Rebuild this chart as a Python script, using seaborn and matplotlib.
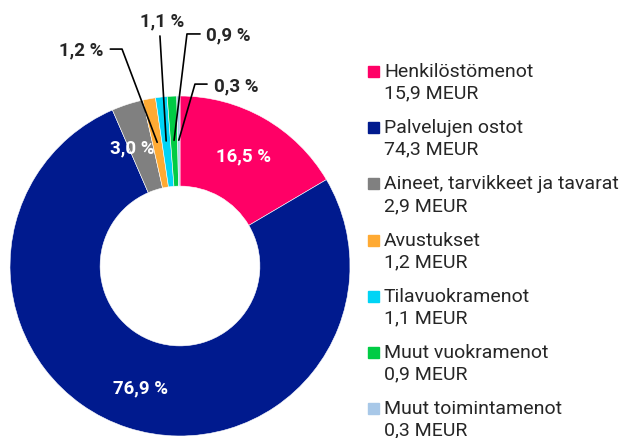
import numpy as np
import matplotlib
matplotlib.use("Agg")
import matplotlib.pyplot as plt
import seaborn as sns
from matplotlib.patches import Rectangle

# data
categories = [
    "Henkilöstömenot",
    "Palvelujen ostot",
    "Aineet, tarvikkeet ja tavarat",
    "Avustukset",
    "Tilavuokramenot",
    "Muut vuokramenot",
    "Muut toimintamenot",
]
meur = [15.9, 74.3, 2.9, 1.2, 1.1, 0.9, 0.3]
shares = [16.5, 76.9, 3.0, 1.2, 1.1, 0.9, 0.3]
colors = ["#FF0066", "#001A8E", "#808080", "#FFAA33", "#00D4F5", "#00CC44", "#A8C8E8"]


def fi(v):
    return f"{v:.1f}".replace(".", ",")


sns.set_theme(style="white")
plt.rcParams["font.family"] = ["Roboto", "DejaVu Sans"]

W, H = 632, 439
fig = plt.figure(figsize=(W / 100, H / 100), dpi=100)
cx, cy, r = 180, 267, 170
ax = fig.add_axes([(cx - r) / W, (H - cy - r) / H, 2 * r / W, 2 * r / H])

wedges, _ = ax.pie(
    shares,
    colors=colors,
    startangle=90,
    counterclock=False,
    radius=1,
    wedgeprops=dict(width=0.53, edgecolor="white", linewidth=0.4),
)
ax.set_xlim(-1, 1)
ax.set_ylim(-1, 1)
ax.set_aspect("equal")
ax.axis("off")

# labels inside the big wedges (small angle nudge for the narrow grey one)
nudge = {2: 4.0}
for i, (w, s) in enumerate(zip(wedges, shares)):
    mid = np.deg2rad((w.theta1 + w.theta2) / 2 + nudge.get(i, 0))
    if s >= 3:
        ax.text(0.75 * np.cos(mid), 0.75 * np.sin(mid), f"{fi(s)} %",
                color="white", fontsize=13.5, fontweight="bold",
                ha="center", va="center")

# leader labels for the small wedges: (elbow, end of line, text pos, ha)
leaders = {
    3: ((-0.341, 1.276), (-0.41, 1.276), (-0.45, 1.276), "right"),
    4: ((-0.118, 1.353), (-0.118, 1.353), (-0.108, 1.445), "center"),
    5: ((0.041, 1.365), (0.118, 1.365), (0.155, 1.36), "left"),
    6: ((0.088, 1.07), (0.159, 1.07), (0.2, 1.065), "left"),
}
for i, (elbow, end, tpos, ha) in leaders.items():
    w = wedges[i]
    mid = np.deg2rad((w.theta1 + w.theta2) / 2)
    ax_pt = (0.74 * np.cos(mid), 0.74 * np.sin(mid))
    ax.plot([ax_pt[0], elbow[0], end[0]], [ax_pt[1], elbow[1], end[1]],
            color="black", lw=1.2, clip_on=False)
    ax.text(tpos[0], tpos[1], f"{fi(shares[i])} %", fontsize=13.5,
            fontweight="bold", ha=ha, va="center", clip_on=False)

# legend
top = 67
step = 56.2
for i, (cat, val, col) in enumerate(zip(categories, meur, colors)):
    y = top + i * step
    fig.add_artist(Rectangle((368 / W, 1 - (y + 11) / H), 11 / W, 11 / H,
                             transform=fig.transFigure, color=col))
    fig.text(384 / W, 1 - (y - 4) / H, f"{cat}\n{fi(val)} MEUR",
             fontsize=14, va="top", ha="left", linespacing=1.25)

fig.savefig("out.png", dpi=100)
